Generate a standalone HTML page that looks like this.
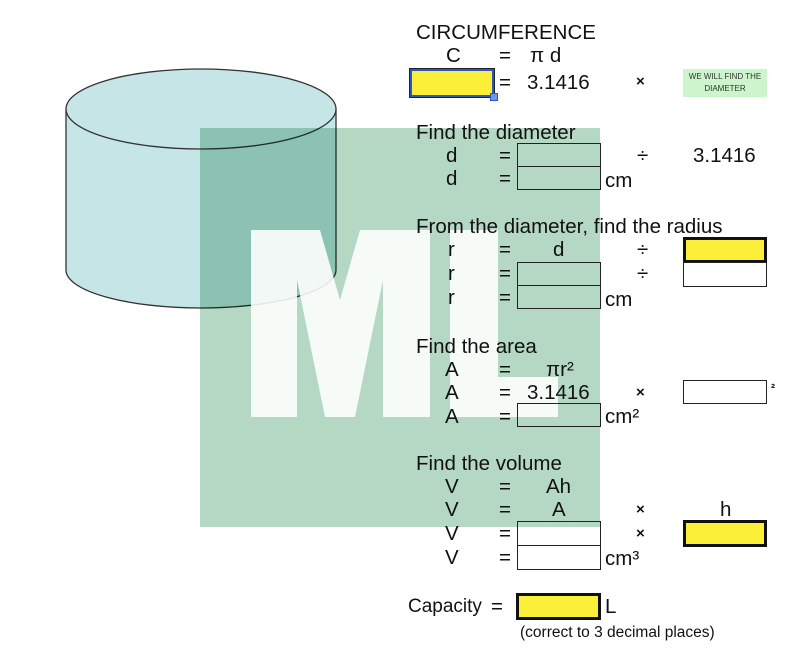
<!DOCTYPE html>
<html><head><meta charset="utf-8"><style>
html,body{margin:0;padding:0;background:#fff;}
#c{position:relative;width:800px;height:655px;overflow:hidden;font-family:"Liberation Sans",Arial,sans-serif;color:#111;}
.t{position:absolute;font-size:20.5px;line-height:20px;white-space:nowrap;}
.b{position:absolute;border:1.5px solid #222;box-sizing:border-box;}
.y{background:#fbef3a;border:3px solid #111;}
.s{font-size:15.5px;}
</style></head><body><div id="c">
<svg width="800" height="655" style="position:absolute;left:0;top:0">
<path d="M66,110 L66,270 A135,38 0 0 0 336,270 L336,110 Z" fill="#c6e5e7" stroke="#333" stroke-width="1.3"/>
<ellipse cx="201" cy="109" rx="135" ry="40" fill="#c6e5e7" stroke="#333" stroke-width="1.3"/>
<rect x="200" y="128" width="400" height="399" fill="#b4d8c4" style="mix-blend-mode:multiply"/>
<polygon points="251,230 320,230 340,300 360,230 430,230 430,417 383,417 383,280 355,417 325,417 297,280 297,417 251,417" fill="#fff" opacity="0.88"/>
<polygon points="450,230 498,230 498,377 558,377 558,417 450,417" fill="#fff" opacity="0.88"/>
</svg>
<div class="t" style="left:416px;top:23px">CIRCUMFERENCE</div>
<div class="t" style="left:446px;top:46px">C</div>
<div class="t" style="left:499px;top:46px">=</div>
<div class="t" style="left:530px;top:46px">π d</div>
<div class="b" style="left:410px;top:69px;width:84px;height:28px;background:#fbef3a;border:2px solid #2c55c9;outline:1px solid #222"></div>
<div style="position:absolute;left:490px;top:93px;width:6px;height:6px;background:#6b9ae0;border:1px solid #2c55c9"></div>
<div class="t" style="left:499px;top:73px">=</div>
<div class="t" style="left:527px;top:73px">3.1416</div>
<div class="t" style="left:636px;top:72px;font-size:15px;font-weight:bold">×</div>
<div style="position:absolute;left:683px;top:69px;width:84px;height:28px;background:#ccf5cc;font-size:8px;line-height:12px;text-align:center;padding-top:2px;box-sizing:border-box;color:#333">WE WILL FIND THE<br>DIAMETER</div>

<div class="t" style="left:416px;top:123px">Find the diameter</div>
<div class="t" style="left:446px;top:146px">d</div><div class="t" style="left:499px;top:146px">=</div>
<div class="t" style="left:446px;top:169px">d</div><div class="t" style="left:499px;top:169px">=</div>
<div class="b" style="left:517px;top:143px;width:84px;height:24px"></div>
<div class="b" style="left:517px;top:166px;width:84px;height:24px"></div>
<div class="t" style="left:605px;top:171px">cm</div>
<div class="t" style="left:637px;top:146px">÷</div>
<div class="t" style="left:693px;top:146px">3.1416</div>

<div class="t" style="left:416px;top:217px">From the diameter, find the radius</div>
<div class="t" style="left:448px;top:240px">r</div><div class="t" style="left:499px;top:240px">=</div><div class="t" style="left:553px;top:240px">d</div>
<div class="t" style="left:448px;top:264px">r</div><div class="t" style="left:499px;top:264px">=</div>
<div class="t" style="left:448px;top:288px">r</div><div class="t" style="left:499px;top:288px">=</div>
<div class="b" style="left:517px;top:262px;width:84px;height:24px"></div>
<div class="b" style="left:517px;top:285px;width:84px;height:24px"></div>
<div class="t" style="left:605px;top:290px">cm</div>
<div class="t" style="left:637px;top:240px">÷</div>
<div class="t" style="left:637px;top:264px">÷</div>
<div class="b y" style="left:683px;top:237px;width:84px;height:26px"></div>
<div class="b" style="left:683px;top:262px;width:84px;height:25px"></div>

<div class="t" style="left:416px;top:337px">Find the area</div>
<div class="t" style="left:445px;top:360px">A</div><div class="t" style="left:499px;top:360px">=</div><div class="t" style="left:546px;top:360px">πr²</div>
<div class="t" style="left:445px;top:383px">A</div><div class="t" style="left:499px;top:383px">=</div><div class="t" style="left:527px;top:383px">3.1416</div>
<div class="t" style="left:445px;top:407px">A</div><div class="t" style="left:499px;top:407px">=</div>
<div class="b" style="left:517px;top:403px;width:84px;height:24px"></div>
<div class="t" style="left:605px;top:407px">cm²</div>
<div class="t" style="left:636px;top:383px;font-size:15px;font-weight:bold">×</div>
<div class="b" style="left:683px;top:380px;width:84px;height:24px"></div>
<div class="t" style="left:771px;top:378px;font-size:12px;font-weight:bold">²</div>

<div class="t" style="left:416px;top:454px">Find the volume</div>
<div class="t" style="left:445px;top:477px">V</div><div class="t" style="left:499px;top:477px">=</div><div class="t" style="left:546px;top:477px">Ah</div>
<div class="t" style="left:445px;top:500px">V</div><div class="t" style="left:499px;top:500px">=</div><div class="t" style="left:552px;top:500px">A</div>
<div class="t" style="left:445px;top:524px">V</div><div class="t" style="left:499px;top:524px">=</div>
<div class="t" style="left:445px;top:548px">V</div><div class="t" style="left:499px;top:548px">=</div>
<div class="b" style="left:517px;top:521px;width:84px;height:25px"></div>
<div class="b" style="left:517px;top:545px;width:84px;height:25px"></div>
<div class="t" style="left:605px;top:549px">cm³</div>
<div class="t" style="left:636px;top:500px;font-size:15px;font-weight:bold">×</div>
<div class="t" style="left:636px;top:524px;font-size:15px;font-weight:bold">×</div>
<div class="t" style="left:720px;top:500px">h</div>
<div class="b y" style="left:683px;top:520px;width:84px;height:27px"></div>

<div class="t" style="left:408px;top:597px;font-size:19px">Capacity</div>
<div class="t" style="left:491px;top:597px">=</div>
<div class="b y" style="left:516px;top:593px;width:85px;height:27px"></div>
<div class="t" style="left:605px;top:597px">L</div>
<div class="t s" style="left:520px;top:623px">(correct to 3 decimal places)</div>
</div></body></html>
